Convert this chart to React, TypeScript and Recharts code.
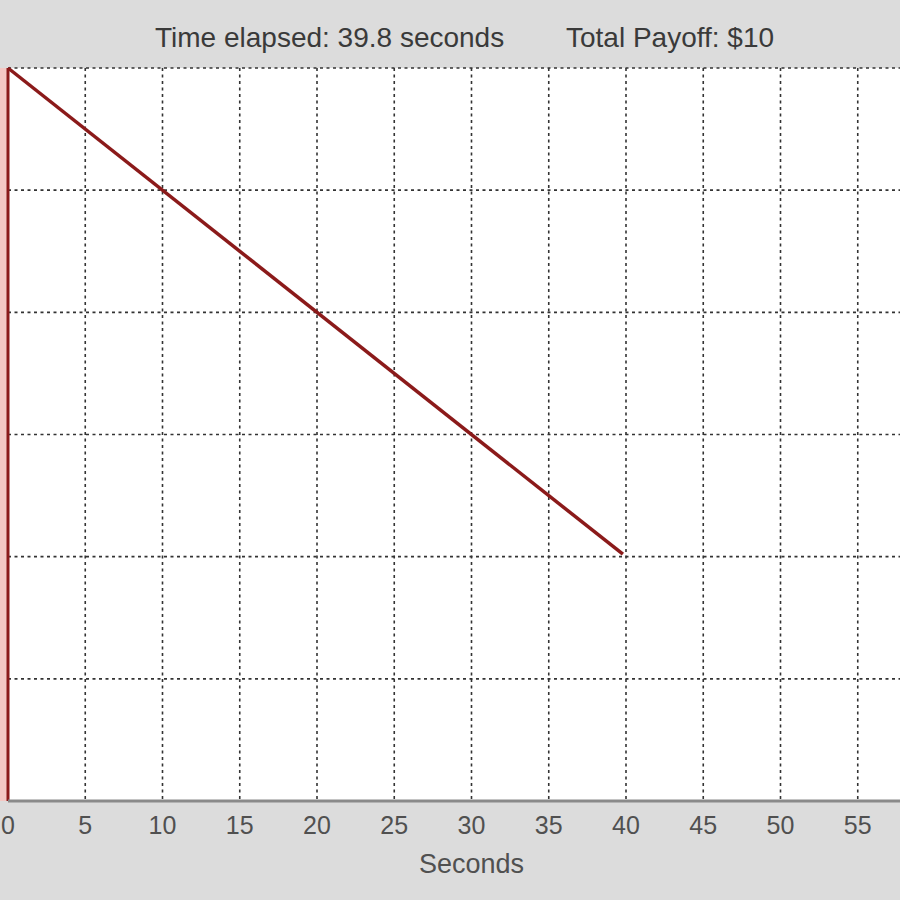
import React from "react";
import { LineChart, Line, XAxis, YAxis, CartesianGrid, ReferenceLine } from "recharts";

const seconds = [0, 39.8];
const payoff = [6, 2.02];
const xTicks = [0, 5, 10, 15, 20, 25, 30, 35, 40, 45, 50, 55];
const yTicks = [0, 1, 2, 3, 4, 5, 6];
const titleLeft = "Time elapsed: 39.8 seconds";
const titleRight = "Total Payoff: $10";

const data = seconds.map((t, i) => ({ t, v: payoff[i] }));

const font = "'Liberation Sans', Arial, sans-serif";

export default function App() {
  return (
    <div
      style={{
        position: "fixed",
        left: 0,
        top: 0,
        width: 900,
        height: 900,
        overflow: "hidden",
        background: "#dcdcdc",
        fontFamily: font,
      }}
    >
      <div style={{ position: "absolute", left: 0, top: 68, width: 8, height: 733, background: "#f4c8c4" }} />
      <div
        style={{
          position: "absolute",
          top: 22,
          left: 155,
          fontSize: 28,
          lineHeight: "32px",
          color: "#3a3a3a",
          whiteSpace: "pre",
        }}
      >
        {titleLeft}
      </div>
      <div
        style={{
          position: "absolute",
          top: 22,
          left: 566,
          fontSize: 28,
          lineHeight: "32px",
          color: "#3a3a3a",
          whiteSpace: "pre",
        }}
      >
        {titleRight}
      </div>
      <div style={{ position: "absolute", left: 0, top: 0 }}>
        <LineChart
          width={960}
          height={900}
          data={data}
          margin={{ top: 68, left: 8, right: 25, bottom: 19 }}
        >
          <CartesianGrid stroke="#333333" strokeDasharray="3 3.5" strokeWidth={1.6} fill="#ffffff" />
          <XAxis
            dataKey="t"
            type="number"
            domain={[0, 60]}
            ticks={xTicks}
            interval={0}
            tickLine={false}
            axisLine={{ stroke: "#8a8a8a", strokeWidth: 3 }}
            height={80}
            tick={{ fill: "#505050", fontSize: 25, fontFamily: font }}
            tickMargin={9}
            label={{
              value: "Seconds",
              position: "insideBottom",
              offset: 8,
              fill: "#505050",
              fontSize: 27,
              fontFamily: font,
            }}
          />
          <YAxis type="number" domain={[0, 6]} ticks={yTicks} hide width={0} />
          <ReferenceLine x={0} stroke="#8b1a1a" strokeWidth={3} ifOverflow="visible" />
          <Line
            dataKey="v"
            stroke="#8b1a1a"
            strokeWidth={3.5}
            dot={false}
            isAnimationActive={false}
          />
        </LineChart>
      </div>
    </div>
  );
}
